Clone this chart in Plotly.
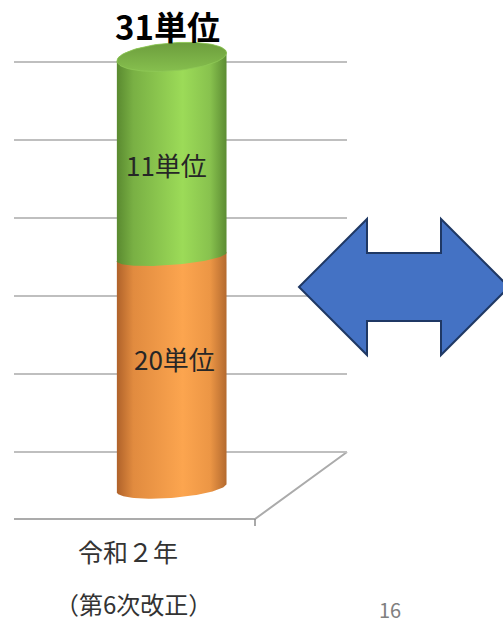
import numpy as np
import plotly.graph_objects as go

# ---------------- data ----------------
CATEGORY = "令和２年"
SUBLABEL = "（第6次改正）"
SEGMENT_NAMES = ["基礎", "追加"]
SEGMENT_VALUES = [20, 11]          # units
UNIT = "単位"
PAGE_NO = "16"

# ---------------- figure geometry / style ----------------
W, H = 503, 624
FONT = "Noto Sans CJK JP"
X_DOMAIN = [14 / W, 347 / W]
X_RANGE = [-1.434, 1.594]
Y_RANGE = [-0.19, 34.13]
AXIS_MIN = 7.3                      # like Excel's vertical-axis minimum: bars start here
GRID_RANGE = [(452 - H) / 78, 452 / 78]
GRID_TICKS = [0, 1, 2, 3, 4, 5]

PX_X = (X_DOMAIN[1] - X_DOMAIN[0]) * W / (X_RANGE[1] - X_RANGE[0])
PX_Y = H / (Y_RANGE[1] - Y_RANGE[0])
RX = 55          # cylinder radius in px
TILT = np.radians(4.5)

GREEN_SCALE = [[0, "#5a8a30"], [0.15, "#79b044"], [0.6, "#9cdb58"], [0.85, "#88c24e"], [1, "#5c8c33"]]
ORANGE_SCALE = [[0, "#b0622a"], [0.15, "#e18b3f"], [0.6, "#fca54f"], [0.85, "#ec9645"], [1, "#b46a2f"]]
TOP_SCALE = [[0, "#86bf4e"], [1, "#6c9d3d"]]


def ellipse(cx, cy, ry, t0, t1, n=60):
    t = np.linspace(t0, t1, n)
    dx = RX * np.cos(t)
    dy = ry * np.sin(t)
    X = dx * np.cos(TILT) - dy * np.sin(TILT)
    Y = dx * np.sin(TILT) + dy * np.cos(TILT)
    return list(cx + X / PX_X), list(cy + Y / PX_Y)


cum = np.cumsum(SEGMENT_VALUES)
lowers = [AXIS_MIN] + list(cum[:-1])
uppers = list(cum)
RY_LEVELS = {AXIS_MIN: 10, float(cum[0]): 8, float(cum[-1]): 14}

fig = go.Figure()
cx = 0
scales = [ORANGE_SCALE, GREEN_SCALE]
for i, (lo, hi) in enumerate(zip(lowers, uppers)):
    ry_lo = RY_LEVELS[float(lo)]
    ry_hi = RY_LEVELS[float(hi)]
    bx, by = ellipse(cx, lo, ry_lo, np.pi, 2 * np.pi)
    tx, ty = ellipse(cx, hi, ry_hi, 0, np.pi)
    xs = bx + tx + [bx[0]]
    ys = by + ty + [by[0]]
    fig.add_trace(go.Scatter(
        x=xs, y=ys, mode="lines", fill="toself",
        line=dict(width=0), fillgradient=dict(type="horizontal", colorscale=scales[i]),
        hoverinfo="skip", showlegend=False, name=SEGMENT_NAMES[i]))

# top face
ex, ey = ellipse(cx, uppers[-1], RY_LEVELS[float(uppers[-1])], 0, 2 * np.pi, 90)
fig.add_trace(go.Scatter(
    x=ex, y=ey, mode="lines", fill="toself", line=dict(width=0.8, color="#8fc957"),
    fillgradient=dict(type="vertical", colorscale=TOP_SCALE),
    hoverinfo="skip", showlegend=False))

# invisible trace to carry the gridline axis
fig.add_trace(go.Scatter(x=[0], y=[0], yaxis="y2", mode="markers",
                         marker=dict(opacity=0), hoverinfo="skip", showlegend=False))

# segment labels
shifts = [(3, 14), (-5, -8)]
for i, (lo, hi) in enumerate(zip(lowers, uppers)):
    fig.add_annotation(x=cx, y=(lo + hi) / 2, text=f"{SEGMENT_VALUES[i]}{UNIT}",
                       showarrow=False, xshift=shifts[i][0], yshift=shifts[i][1],
                       xanchor="center", yanchor="middle",
                       font=dict(family=FONT, size=26, color="#262626"))
# total label
fig.add_annotation(x=cx, y=uppers[-1], text=f"<b>{int(cum[-1])}{UNIT}</b>", showarrow=False,
                   yshift=31, xshift=-4, xanchor="center", yanchor="middle",
                   font=dict(family=FONT, size=33, color="#000000"))


def P(x, y):
    return f"{x / W:.5f},{1 - y / H:.5f}"


# floor of the 3-D plot area
floor = f"M{P(14, 519)} L{P(255, 519)} L{P(347, 452)}"
fig.add_shape(type="path", path=floor, xref="paper", yref="paper",
              line=dict(color="#ababab", width=2), layer="below")
fig.add_shape(type="path", path=f"M{P(255, 519)} L{P(255, 526)}", xref="paper", yref="paper",
              line=dict(color="#8c8c8c", width=1.5))

# double-headed arrow
pts = [(299, 287), (367, 219), (367, 253), (441, 253), (441, 219), (509, 287),
       (441, 355), (441, 321), (367, 321), (367, 355)]
arrow = "M" + " L".join(P(x, y) for x, y in pts) + " Z"
fig.add_shape(type="path", path=arrow, xref="paper", yref="paper",
              fillcolor="#4472c4", line=dict(color="#1f3864", width=2))

# category labels
for txt, px, py, sz, col in [(CATEGORY, 127.5, 551, 25, "#333333"),
                             (SUBLABEL, 133.5, 603, 24, "#333333"),
                             (PAGE_NO, 390, 609, 20, "#808080")]:
    fig.add_annotation(x=px / W, y=1 - py / H, xref="paper", yref="paper", text=txt,
                       showarrow=False, xanchor="center", yanchor="middle", borderpad=0,
                       font=dict(family=FONT, size=sz, color=col))

fig.update_layout(
    width=W, height=H, autosize=False,
    margin=dict(l=0, r=0, t=0, b=0),
    paper_bgcolor="white", plot_bgcolor="rgba(0,0,0,0)",
    showlegend=False,
    xaxis=dict(domain=X_DOMAIN, range=X_RANGE, visible=False, fixedrange=True),
    yaxis=dict(domain=[0, 1], range=Y_RANGE, visible=False, fixedrange=True),
    yaxis2=dict(overlaying="y", range=GRID_RANGE, tickvals=GRID_TICKS, showgrid=True,
                gridcolor="#bfbfbf", gridwidth=2, showticklabels=False, zeroline=False,
                showline=False, ticks="", fixedrange=True),
)

fig.write_html("out.html", config={"displayModeBar": False},
               post_script="document.body.style.margin='0';document.body.style.overflow='hidden';")
